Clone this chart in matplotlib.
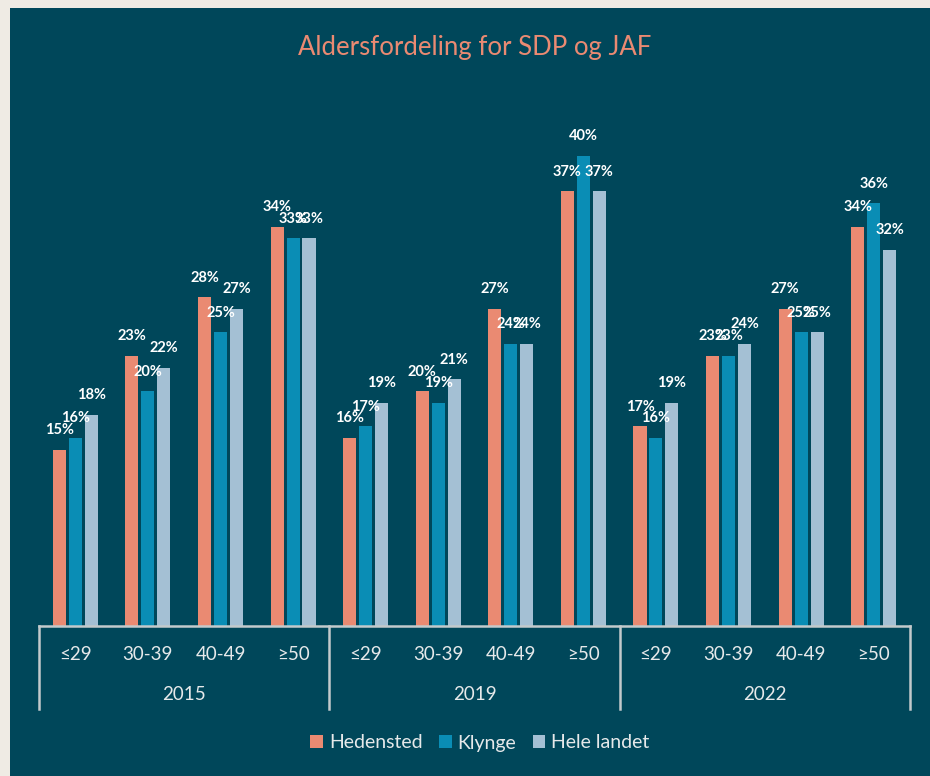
import matplotlib
matplotlib.use("Agg")
import matplotlib.pyplot as plt
from matplotlib.patches import Rectangle
from matplotlib.transforms import blended_transform_factory
import numpy as np

plt.rcParams['font.family'] = ['Lato', 'DejaVu Sans']

years = ['2015', '2019', '2022']
ages = ['≤29', '30-39', '40-49', '≥50']
series = ['Hedensted', 'Klynge', 'Hele landet']
hedensted = [15, 23, 28, 34, 16, 20, 27, 37, 17, 23, 27, 34]
klynge = [16, 20, 25, 33, 17, 19, 24, 40, 16, 23, 25, 36]
hele_landet = [18, 22, 27, 33, 19, 21, 24, 37, 19, 24, 25, 32]
colors = ['#ea8a72', '#0a8db5', '#a4c0d4']

bg = '#00475a'
W, H = 930, 776
fig = plt.figure(figsize=(W / 100, H / 100), dpi=100)
fig.patch.set_facecolor('#efebe4')
fig.patches.append(Rectangle((10 / W, 0), 1, (H - 8) / H, transform=fig.transFigure,
                             facecolor=bg, edgecolor='none', zorder=-10))

# axes: x 39..910 px, baseline at y=626 px, 11.75 px per %
ymax = 45
top_px = 626 - ymax * 11.75
ax = fig.add_axes([39 / W, (H - 626) / H, (910 - 39) / W, (626 - top_px) / H])
ax.set_facecolor('none')
ax.set_xlim(0, 12)
ax.set_ylim(0, ymax)
for s in ax.spines.values():
    s.set_visible(False)
ax.set_xticks([])
ax.set_yticks([])

x = np.arange(12) + 0.5
off = 0.22
w = 0.18
for k, (vals, c) in enumerate(zip([hedensted, klynge, hele_landet], colors)):
    xs = x + (k - 1) * off
    ax.bar(xs, vals, width=w, color=c, label=series[k], zorder=2)
    for xi, v in zip(xs, vals):
        ax.annotate(f'{v}%', (xi, v), xytext=(0, 9), textcoords='offset points',
                    ha='center', va='bottom', color='white', fontsize=10.5,
                    fontweight='bold', zorder=3)

line_c = '#c3cacc'
tr = blended_transform_factory(ax.transData, fig.transFigure)
ax.plot([0, 12], [0, 0], color=line_c, lw=1.8, clip_on=False, zorder=4)
for xv in [0, 4, 8, 12]:
    ax.plot([xv, xv], [(H - 626) / H, (H - 709) / H], color=line_c, lw=1.8,
            transform=tr, clip_on=False)

for i in range(12):
    ax.text(x[i], (H - 654) / H, ages[i % 4], transform=tr, ha='center', va='center',
            color='#e6e9ea', fontsize=13.5)
for j, yr in enumerate(years):
    ax.text(4 * j + 2, (H - 695) / H, yr, transform=tr, ha='center', va='center',
            color='#e6e9ea', fontsize=13.5)

fig.text(475 / W, (H - 48) / H, 'Aldersfordeling for SDP og JAF', ha='center', va='center',
         color='#ea8a72', fontsize=18.5, fontweight='normal')

leg = fig.legend(loc='center', bbox_to_anchor=(480 / W, (H - 743) / H), ncol=3,
                 frameon=False, handlelength=0.65, handleheight=0.65, handletextpad=0.3,
                 columnspacing=0.85, fontsize=14)
for t in leg.get_texts():
    t.set_color('#e6e9ea')

fig.savefig('out.png', dpi=100, facecolor=fig.get_facecolor())
